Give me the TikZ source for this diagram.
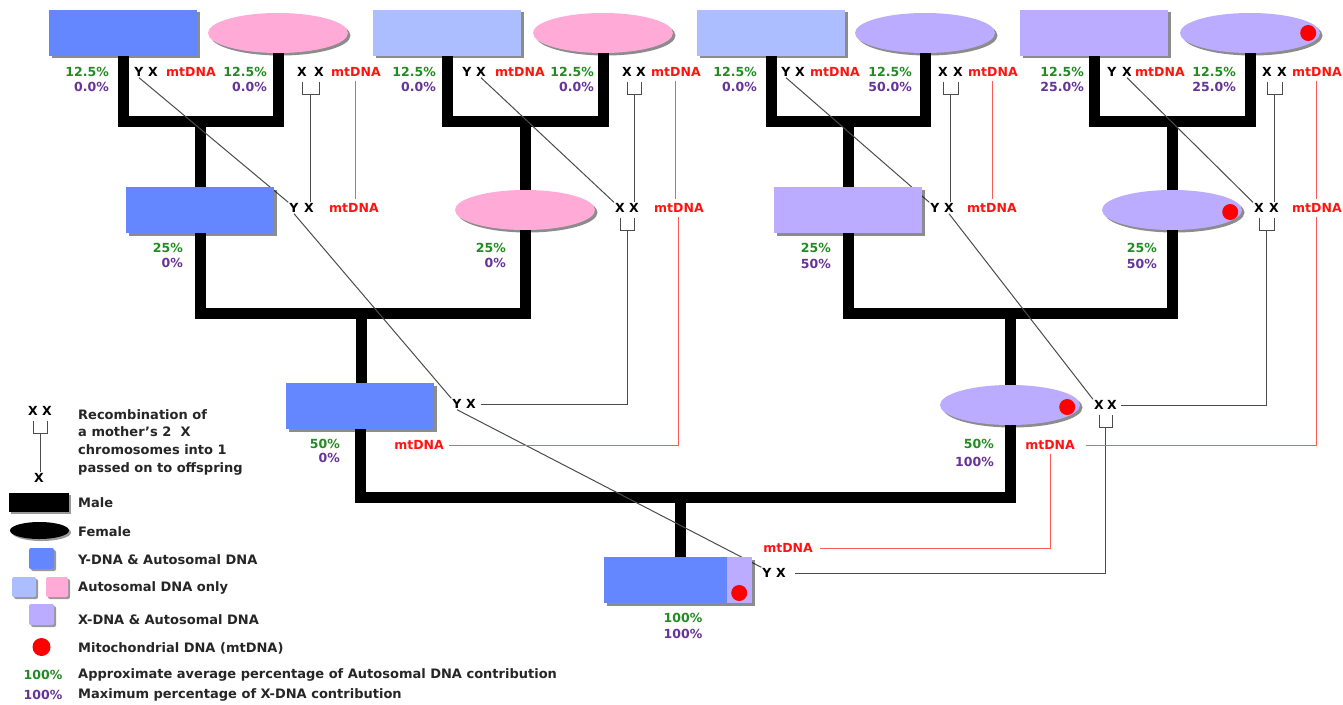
\documentclass[tikz,border=0pt]{standalone}
\usepackage{fontspec}
\setmainfont{DejaVu Sans}
\usetikzlibrary{shapes.geometric,shadows,backgrounds,calc}
\definecolor{dblue}{RGB}{100,135,255}
\definecolor{lblue}{RGB}{172,190,255}
\definecolor{pinkf}{RGB}{255,170,215}
\definecolor{lav}{RGB}{187,172,255}
\definecolor{pgreen}{RGB}{34,139,34}
\definecolor{ppurple}{RGB}{102,51,153}
\definecolor{mtred}{RGB}{255,20,20}
\definecolor{linered}{RGB}{255,90,90}
\definecolor{dotred}{RGB}{255,0,0}
\newcommand\mylbl{\bfseries\fontsize{12.5}{14}\selectfont}
\newcommand\mylegfont{\bfseries\fontsize{13}{17.7}\selectfont}
\newcommand\recomb[3]{%
  \draw[xline] ($(#1.south)+(0,4)$) -- ($(#1.south)+(0,17)$) -| ($(#2.south)+(0,4)$);
  \coordinate (#3) at ($(#1.south)!0.5!(#2.south)+(0,17)$);}
\tikzset{
  person/.style={draw=none, inner sep=0pt, drop shadow={shadow xshift=2.5pt, shadow yshift=-2.5pt, fill=black, opacity=0.45}},
  male/.style={person, rectangle, minimum width=148pt, minimum height=46pt},
  female/.style={person, ellipse, minimum width=140pt, minimum height=40pt},
  mtdot/.style={circle, fill=dotred, inner sep=0pt, minimum size=16pt},
  lab/.style={font=\mylbl, inner sep=1pt, text height=9pt, text depth=0pt},
  pa/.style={lab, text=pgreen, anchor=east},
  pb/.style={lab, text=ppurple, anchor=east},
  mt/.style={lab, text=mtred, anchor=west},
  chr/.style={lab, text=black},
  tree/.style={line width=11pt, line join=miter, draw=black},
  xline/.style={draw=black!70, line width=1pt},
  mtline/.style={draw=linered, line width=1pt},
  leg/.style={font=\mylegfont, anchor=west, inner sep=0pt, text=black!85},
  legbox/.style={draw=none, inner sep=0pt, rounded corners=2pt, drop shadow={shadow xshift=2pt, shadow yshift=-2pt, fill=black, opacity=0.4}},
}
\begin{document}
\begin{tikzpicture}[x=1pt,y=-1pt]
\useasboundingbox (0,0) rectangle (1343,704);

% ---------- persons ----------
\node[male, fill=dblue]  (m1) at (123,32.5) {};
\node[female, fill=pinkf] (f1) at (278,33) {};
\node[male, fill=lblue]  (m2) at (447,32.5) {};
\node[female, fill=pinkf] (f2) at (603,33) {};
\node[male, fill=lblue]  (m3) at (771,32.5) {};
\node[female, fill=lav]   (f3) at (925,33) {};
\node[male, fill=lav]    (m4) at (1094,32.5) {};
\node[female, fill=lav]   (f4) at (1250,33) {};
\node[mtdot] (f4dot) at ($(f4.east)+(-12,0)$) {};

\node[male, fill=dblue]  (g3m1) at (200,210) {};
\node[female, fill=pinkf] (g3f1) at (525,210) {};
\node[male, fill=lav]    (g3m2) at (848,210) {};
\node[female, fill=lav]   (g3f2) at (1172,210) {};
\node[mtdot] (g3f2dot) at ($(g3f2.east)+(-12,2)$) {};

\node[male, fill=dblue]  (g2m) at (360,406) {};
\node[female, fill=lav]   (g2f) at (1010,405) {};
\node[mtdot] (g2fdot) at ($(g2f.east)+(-13,2)$) {};

\node[male, fill=dblue]  (g1) at (678,580) {};
\fill[lav] ($(g1.north east)+(-25,0)$) rectangle (g1.south east);
\node[mtdot] (g1dot) at ($(g1.east)+(-13,13)$) {};

% ---------- generation 4 labels ----------
\node[pa] (m1pa) at (110,72) {12.5\%};  \node[pb] (m1pb) at (110,87) {0.0\%};
\node[chr] (m1Y) at (139,72) {Y}; \node[chr] (m1X) at (153,72) {X};
\node[mt] (m1mt) at (165,72) {mtDNA};
\node[pa] (f1pa) at (268,72) {12.5\%};  \node[pb] (f1pb) at (268,87) {0.0\%};
\node[chr] (f1Xa) at (302,72) {X}; \node[chr] (f1Xb) at (319,72) {X};
\node[mt] (f1mt) at (330,72) {mtDNA};

\node[pa] (m2pa) at (437,72) {12.5\%};  \node[pb] (m2pb) at (437,87) {0.0\%};
\node[chr] (m2Y) at (467,72) {Y}; \node[chr] (m2X) at (481,72) {X};
\node[mt] (m2mt) at (494,72) {mtDNA};
\node[pa] (f2pa) at (595,72) {12.5\%};  \node[pb] (f2pb) at (595,87) {0.0\%};
\node[chr] (f2Xa) at (627,72) {X}; \node[chr] (f2Xb) at (641,72) {X};
\node[mt] (f2mt) at (650,72) {mtDNA};

\node[pa] (m3pa) at (758,72) {12.5\%};  \node[pb] (m3pb) at (758,87) {0.0\%};
\node[chr] (m3Y) at (786,72) {Y}; \node[chr] (m3X) at (800,72) {X};
\node[mt] (m3mt) at (809,72) {mtDNA};
\node[pa] (f3pa) at (913,72) {12.5\%};  \node[pb] (f3pb) at (913,87) {50.0\%};
\node[chr] (f3Xa) at (943,72) {X}; \node[chr] (f3Xb) at (958,72) {X};
\node[mt] (f3mt) at (967,72) {mtDNA};

\node[pa] (m4pa) at (1085,72) {12.5\%};  \node[pb] (m4pb) at (1085,87) {25.0\%};
\node[chr] (m4Y) at (1112,72) {Y}; \node[chr] (m4X) at (1127,72) {X};
\node[mt] (m4mt) at (1134,72) {mtDNA};
\node[pa] (f4pa) at (1237,72) {12.5\%};  \node[pb] (f4pb) at (1237,87) {25.0\%};
\node[chr] (f4Xa) at (1267,72) {X}; \node[chr] (f4Xb) at (1282,72) {X};
\node[mt] (f4mt) at (1291,72) {mtDNA};

% ---------- generation 3 labels ----------
\node[pa] (g3m1pa) at (184,248) {25\%}; \node[pb] (g3m1pb) at (184,263) {0\%};
\node[chr] (g3m1Y) at (294,208) {Y}; \node[chr] (g3m1X) at (309,208) {X};
\node[mt] (g3m1mt) at (328,208) {mtDNA};
\node[pa] (g3f1pa) at (507,248) {25\%}; \node[pb] (g3f1pb) at (507,263) {0\%};
\node[chr] (g3f1Xa) at (620,208) {X}; \node[chr] (g3f1Xb) at (634,208) {X};
\node[mt] (g3f1mt) at (653,208) {mtDNA};
\node[pa] (g3m2pa) at (832,248) {25\%}; \node[pb] (g3m2pb) at (832,264) {50\%};
\node[chr] (g3m2Y) at (935,208) {Y}; \node[chr] (g3m2X) at (949,208) {X};
\node[mt] (g3m2mt) at (966,208) {mtDNA};
\node[pa] (g3f2pa) at (1158,248) {25\%}; \node[pb] (g3f2pb) at (1158,264) {50\%};
\node[chr] (g3f2Xa) at (1259,208) {X}; \node[chr] (g3f2Xb) at (1274,208) {X};
\node[mt] (g3f2mt) at (1291,208) {mtDNA};

% ---------- generation 2 labels ----------
\node[pa] (g2mpa) at (341,444) {50\%}; \node[pb] (g2mpb) at (341,458) {0\%};
\node[chr] (g2mY) at (457,404) {Y}; \node[chr] (g2mX) at (471,404) {X};
\node[mt, anchor=east] (g2mmt) at (445,445) {mtDNA};
\node[pa] (g2fpa) at (995,444) {50\%}; \node[pb] (g2fpb) at (995,462) {100\%};
\node[chr] (g2fXa) at (1099,405) {X}; \node[chr] (g2fXb) at (1112,405) {X};
\node[mt, anchor=center] (g2fmt) at (1050,445) {mtDNA};

% ---------- generation 1 labels ----------
\node[pa, anchor=center] (g1pa) at (683,618) {100\%};
\node[pb, anchor=center] (g1pb) at (683,634) {100\%};
\node[chr] (g1Y) at (767,573) {Y}; \node[chr] (g1X) at (781,573) {X};
\node[mt, anchor=center] (g1mt) at (788,548) {mtDNA};

% ---------- legend ----------
\node[chr] (lx1) at (33,411) {X}; \node[chr] (lx2) at (47,411) {X};
\node[chr] (lx3) at (39,478) {X};
\node[leg, anchor=north west, align=left] (ltxt) at (78,409)
  {Recombination of\\a mother's 2\ \ X\\chromosomes into 1\\passed on to offspring};
\node[legbox, rectangle, rounded corners=0pt, fill=black, minimum width=60pt, minimum height=19pt] (lmale) at (39,502.5) {};
\node[leg] (lmalet) at (78,503) {Male};
\node[legbox, ellipse, fill=black, minimum width=59pt, minimum height=17pt] (lfem) at (39.5,530.5) {};
\node[leg] (lfemt) at (78,532) {Female};
\node[legbox, rectangle, fill=dblue, minimum width=25pt, minimum height=21pt] (lyd) at (41.5,558.5) {};
\node[leg] (lydt) at (78,560) {Y-DNA \& Autosomal DNA};
\node[legbox, rectangle, fill=lblue, minimum width=24pt, minimum height=20pt] (lau1) at (24,587) {};
\node[legbox, rectangle, fill=pinkf, minimum width=22pt, minimum height=20pt] (lau2) at (57,587) {};
\node[leg] (laut) at (78,588) {Autosomal DNA only};
\node[legbox, rectangle, fill=lav, minimum width=25pt, minimum height=21pt] (lxd) at (41.5,614.5) {};
\node[leg] (lxdt) at (78,620) {X-DNA \& Autosomal DNA};
\node[mtdot, minimum size=18pt] (lmt) at (41.5,647) {};
\node[leg] (lmtt) at (78,648) {Mitochondrial DNA (mtDNA)};
\node[lab, text=pgreen] (lpa) at (43,675) {100\%};
\node[leg] (lpat) at (78,675) {Approximate average percentage of Autosomal DNA contribution};
\node[lab, text=ppurple] (lpb) at (43,695) {100\%};
\node[leg] (lpbt) at (78,695) {Maximum percentage of X-DNA contribution};

% ---------- connectors ----------
\begin{pgfonlayer}{background}
\fill[white] (0,0) rectangle (1343,704);
% junctions
\coordinate (j1) at (200.5,121);
\coordinate (j2) at (525,121);
\coordinate (j3) at (848,121);
\coordinate (j4) at (1172,121);
\coordinate (j5) at (361,313);
\coordinate (j6) at (1010,313);
\coordinate (j7) at (680,497);
% thick family lines
\draw[tree] (m1.south) |- (j1) -| (f1.south);
\draw[tree] (j1) -- (j1 |- g3m1.north);
\draw[tree] (m2.south) |- (j2) -| (f2.south);
\draw[tree] (j2) -- (j2 |- g3f1.north);
\draw[tree] (m3.south) |- (j3) -| (f3.south);
\draw[tree] (j3) -- (j3 |- g3m2.north);
\draw[tree] (m4.south) |- (j4) -| (f4.south);
\draw[tree] (j4) -- (j4 |- g3f2.north);
\draw[tree] (g3m1.south) |- (j5) -| (g3f1.south);
\draw[tree] (j5) -- (j5 |- g2m.north);
\draw[tree] (g3m2.south) |- (j6) -| (g3f2.south);
\draw[tree] (j6) -- (j6 |- g2f.north);
\draw[tree] (g2m.south) |- (j7) -| (g2f.south);
\draw[tree] (j7) -- (j7 |- g1.north);

% X recombination brackets
\recomb{f1Xa}{f1Xb}{f1U}
\recomb{f2Xa}{f2Xb}{f2U}
\recomb{f3Xa}{f3Xb}{f3U}
\recomb{f4Xa}{f4Xb}{f4U}
\recomb{g3f1Xa}{g3f1Xb}{g3f1U}
\recomb{g3f2Xa}{g3f2Xb}{g3f2U}
\recomb{g2fXa}{g2fXb}{g2fU}
\recomb{lx1}{lx2}{lU}

\draw[xline] (f1U) -- (f1U |- g3m1X.north);
\draw[xline] (f2U) -- (f2U |- g3f1Xb.north);
\draw[xline] (f3U) -- (f3U |- g3m2X.north);
\draw[xline] (f4U) -- (f4U |- g3f2Xb.north);
\draw[xline] (g3f1U) |- ($(g2mX.east)+(4,0)$);
\draw[xline] (g3f2U) |- ($(g2fXb.east)+(3,0)$);
\draw[xline] (g2fU) |- ($(g1X.east)+(8,0)$);
\draw[xline] (lU) -- (lU |- lx3.north);

% Y / X chromosome diagonals
\draw[xline] (m1Y.south) -- (g3m1Y.north west);
\draw[xline] (g3m1Y.south) -- (g2mY.north west);
\draw[xline] (g2mY.south) -- (g1Y.north west);
\draw[xline] (m2X.south) -- (g3f1Xa.north west);
\draw[xline] (m3Y.south) -- (g3m2Y.north west);
\draw[xline] (m4X.south) -- (g3f2Xa.north west);
\draw[xline] (g3m2X.south) -- (g2fXa.north west);

% mtDNA lines
\draw[mtline, shorten <=3pt, shorten >=3pt] (f1mt.south) -- (f1mt.south |- g3m1mt.north);
\draw[mtline, shorten <=3pt, shorten >=3pt] (f2mt.south) -- (f2mt.south |- g3f1mt.north);
\draw[mtline, shorten <=3pt, shorten >=3pt] (f3mt.south) -- (f3mt.south |- g3m2mt.north);
\draw[mtline, shorten <=3pt, shorten >=3pt] (f4mt.south) -- (f4mt.south |- g3f2mt.north);
\draw[mtline, shorten <=3pt, shorten >=4pt] (g3f1mt.south) |- (g2mmt.east);
\draw[mtline, shorten <=3pt, shorten >=10pt] (g3f2mt.south) |- (g2fmt.east);
\draw[mtline, shorten <=3pt, shorten >=6pt] (g2fmt.south) |- (g1mt.east);
\end{pgfonlayer}
\end{tikzpicture}
\end{document}
